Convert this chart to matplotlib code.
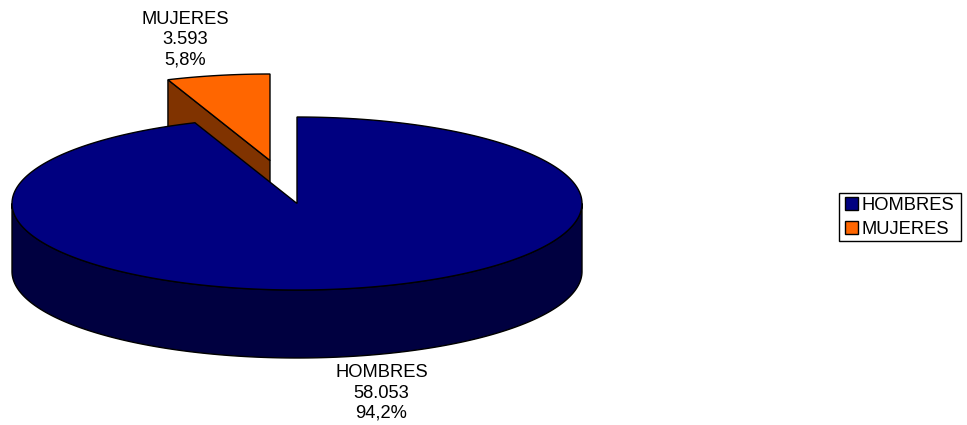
import matplotlib
matplotlib.use('Agg')
import matplotlib.pyplot as plt
from matplotlib.patches import Patch, Polygon, Rectangle
import numpy as np

# data
categories = ['HOMBRES', 'MUJERES']
values = [58053, 3593]
value_labels = ['58.053', '3.593']
percent_labels = ['94,2%', '5,8%']

top_colors = ['#000080', '#FF6600']
side_colors = ['#000040', '#803300']

plt.rcParams['font.family'] = ['Liberation Sans', 'DejaVu Sans']

# pie geometry in pixels
cx, cy = 297, 203.5
rx, ry = 285, 86.5
depth = 68
explode = np.array([-27, -43])


# point(s) on the rim, angle measured clockwise from 12 o'clock
def rim(t, center=(cx, cy)):
    t = np.asarray(t)
    return np.column_stack([center[0] + rx * np.sin(t),
                            center[1] - ry * np.cos(t)])


fig = plt.figure(figsize=(9.67, 4.25), dpi=100)
ax = fig.add_axes([0, 0, 1, 1])
ax.set_xlim(0, 967)
ax.set_ylim(425, 0)
ax.axis('off')

split = 2 * np.pi * values[0] / sum(values)

# exploded small slice, with the cut face that shows behind the big one
c2 = np.array([cx, cy]) + explode
edge = rim([split], c2)[0]
face = np.array([edge, c2, c2 + [0, depth], edge + [0, depth]])
ax.add_patch(Polygon(face, closed=True, fc=side_colors[1], ec='black', lw=1, zorder=1))
arc2 = rim(np.linspace(split, 2 * np.pi, 40), c2)
ax.add_patch(Polygon(np.vstack([[c2], arc2]), closed=True, fc=top_colors[1],
                     ec='black', lw=1, joinstyle='miter', zorder=2))

# big slice: front wall then top
front = rim(np.linspace(np.pi / 2, 3 * np.pi / 2, 200))
wall = np.vstack([front, (front + [0, depth])[::-1]])
ax.add_patch(Polygon(wall, closed=True, fc=side_colors[0], ec='black', lw=1, zorder=3))
arc1 = rim(np.linspace(0, split, 400))
ax.add_patch(Polygon(np.vstack([[[cx, cy]], arc1]), closed=True, fc=top_colors[0],
                     ec='black', lw=1, joinstyle='miter', zorder=4))

# data labels
ax.text(381.5, 393, '\n'.join([categories[0], value_labels[0], percent_labels[0]]),
        ha='center', va='center', fontsize=13.2, color='black', linespacing=1.25)
ax.text(185.5, 39.5, '\n'.join([categories[1], value_labels[1], percent_labels[1]]),
        ha='center', va='center', fontsize=13.2, color='black', linespacing=1.25)

# legend box is drawn apart, its padding is not the same both ways
ax.add_patch(Rectangle((839, 193), 122, 48, fc='white', ec='black', lw=1, zorder=5))
handles = [Patch(fc=c, ec='black', lw=1) for c in top_colors]
leg = ax.legend(handles, categories, loc='upper left',
                bbox_to_anchor=(845, 197), bbox_transform=ax.transData,
                borderaxespad=0, frameon=False,
                fontsize=13.2, handlelength=0.7, handleheight=0.7, handletextpad=0.2,
                labelspacing=0.38, borderpad=0)
leg.set_zorder(6)

fig.savefig('out.png', dpi=100)
